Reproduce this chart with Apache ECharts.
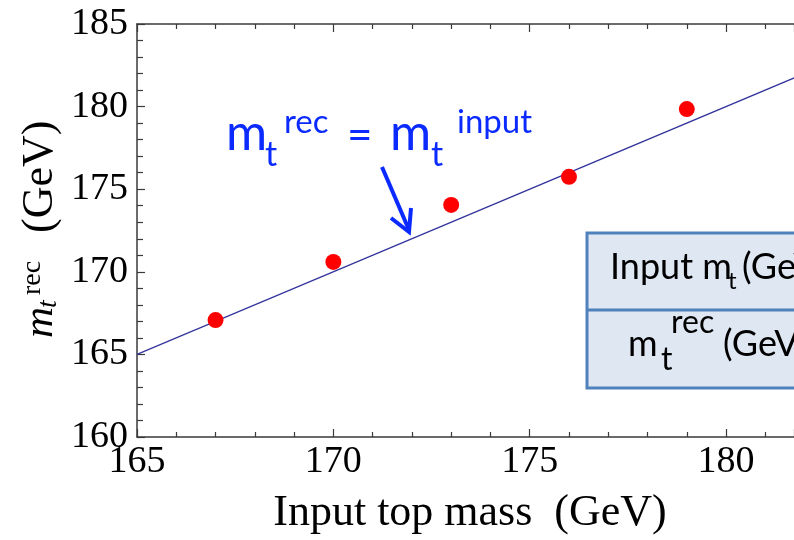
<!DOCTYPE html>
<html>
<head>
<meta charset="utf-8">
<script src="https://cdn.jsdelivr.net/npm/echarts@6/dist/echarts.min.js"></script>
<style>
html,body{margin:0;padding:0;background:#fff;}
#main{width:794px;height:540px;}
</style>
</head>
<body>
<div id="main"></div>
<script>
// ---- data ----
var inputMass = [167, 170, 173, 176, 179];
var recMass = [167.08, 170.6, 174.05, 175.75, 179.85];
var diagX = [165, 185];
var diagY = [165, 185];
var xTicks = [165, 170, 175, 180];
var yTicks = [160, 165, 170, 175, 180, 185];
var xMin = 165, xMax = 181.73, yMin = 160, yMax = 185;

var points = inputMass.map(function (x, i) { return [x, recMass[i]]; });
var diag = diagX.map(function (x, i) { return [x, diagY[i]]; });

var SERIF = '"Liberation Serif","Times New Roman",serif';
var SANS = 'Lato,"Open Sans",sans-serif';
var BLUE = '#0a2aff';

function txt(x, base, text, size, family, opts) {
  opts = opts || {};
  var k = family === SERIF ? 0.34 : 0.39;
  return {
    type: 'text', x: x, y: base - k * size, z: opts.z || 10,
    style: {
      text: text,
      font: (opts.italic ? 'italic ' : '') + size + 'px ' + family,
      fill: opts.fill || '#000',
      align: opts.align || 'left',
      verticalAlign: 'middle'
    }
  };
}

var chart = echarts.init(document.getElementById('main'), null, {renderer: 'canvas'});

var tickStyle = {color: '#3a3a3a', width: 1.2};
var axisCommon = {
  type: 'value',
  min: xMin, max: xMax, interval: 5,
  splitLine: {show: false},
  axisLine: {show: true, lineStyle: {color: '#3a3a3a', width: 1.5}},
  axisTick: {show: true, inside: true, length: 8, lineStyle: tickStyle},
  minorTick: {show: true, splitNumber: 5, length: 5, lineStyle: tickStyle},
  minorSplitLine: {show: false}
};

var option = {
  animation: false,
  backgroundColor: '#fff',
  grid: {left: 137, top: 24, right: 0, height: 413, containLabel: false},
  xAxis: [
    Object.assign({}, axisCommon, {
      position: 'bottom',
      axisLabel: {
        show: true, margin: 6, color: '#000', fontSize: 38, fontFamily: SERIF,
        customValues: xTicks
      }
    }),
    Object.assign({}, axisCommon, {
      position: 'top',
      axisLabel: {show: false}
    })
  ],
  yAxis: [{
    type: 'value', min: yMin, max: yMax, interval: 5,
    splitLine: {show: false},
    axisLine: {show: true, lineStyle: {color: '#3a3a3a', width: 1.5}},
    axisTick: {show: true, inside: true, length: 8, lineStyle: tickStyle},
    minorTick: {show: true, splitNumber: 5, length: 6, lineStyle: tickStyle},
    axisLabel: {show: true, margin: 9, color: '#000', fontSize: 38, fontFamily: SERIF, customValues: yTicks}
  }],
  series: [
    {
      type: 'line', data: diag, symbol: 'none', silent: true,
      lineStyle: {color: '#33339c', width: 1.2}, z: 2, clip: true
    },
    {
      type: 'scatter', data: points, symbol: 'circle', symbolSize: 16,
      itemStyle: {color: '#ff0000', opacity: 1}, z: 5
    }
  ],
  graphic: [
    // x axis title
    txt(470, 528, 'Input top mass  (GeV)', 44, SERIF, {align: 'center'}),
    // y axis title (rotated)
    {
      type: 'group', x: 55, y: 338, rotation: Math.PI / 2,
      children: [
        txt(0, 0, 'm', 43, SERIF, {italic: true}),
        txt(30, 3, 't', 28, SERIF, {italic: true}),
        txt(43, -13, 'rec', 28, SERIF),
        txt(105, 0, '(GeV)', 44, SERIF)
      ]
    },
    // blue annotation
    txt(226, 153, 'm', 50, SANS, {fill: BLUE}),
    txt(265, 168, 't', 34, SANS, {fill: BLUE}),
    txt(284, 135, 'rec', 33, SANS, {fill: BLUE}),
    txt(347, 153, '=', 44, SANS, {fill: BLUE}),
    txt(390, 153, 'm', 50, SANS, {fill: BLUE}),
    txt(431, 168, 't', 34, SANS, {fill: BLUE}),
    txt(457, 135, 'input', 33, SANS, {fill: BLUE}),
    {
      type: 'polyline', z: 10,
      shape: {points: [[382, 167], [409, 230]]},
      style: {stroke: BLUE, lineWidth: 4, fill: null}
    },
    {
      type: 'polyline', z: 10,
      shape: {points: [[391, 218], [409, 232], [411, 208]]},
      style: {stroke: BLUE, lineWidth: 4, fill: null, lineJoin: 'miter'}
    },
    // table
    {
      type: 'rect', z: 8,
      shape: {x: 587, y: 233, width: 240, height: 155},
      style: {fill: '#dfe7f2', stroke: '#4f81bd', lineWidth: 3}
    },
    {
      type: 'line', z: 9,
      shape: {x1: 587, y1: 310, x2: 830, y2: 310},
      style: {stroke: '#4f81bd', lineWidth: 3}
    },
    txt(610, 281, 'Input m', 36, SANS),
    txt(728, 291, 't', 24, SANS),
    txt(742, 281, '(GeV)', 36, SANS),
    txt(628, 358, 'm', 36, SANS),
    txt(661, 372, 't', 32, SANS),
    txt(671, 335, 'rec', 32, SANS),
    txt(723, 358, '(GeV)', 36, SANS)
  ]
};
chart.setOption(option);
</script>
</body>
</html>
